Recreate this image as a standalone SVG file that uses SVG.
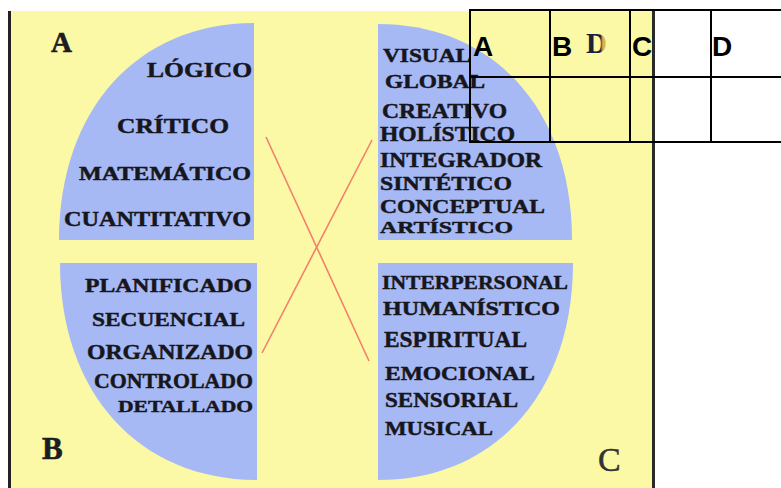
<svg xmlns="http://www.w3.org/2000/svg" width="781" height="488" viewBox="0 0 781 488">
  <style>
    .q { fill: #a7b9f4; }
    .t { font-family: "Liberation Serif", "Times New Roman", serif; font-weight: bold; fill: #16161c; stroke: #16161c; stroke-width: 0.45; }
    .corner { font-family: "Liberation Serif", "Times New Roman", serif; font-weight: bold; fill: #1c1c22; stroke: #1c1c22; stroke-width: 0.6; }
    .cross { stroke: #f2806c; stroke-width: 1.6; fill: none; }
    .grid { stroke: #000; stroke-width: 2; fill: none; }
    .th { font-family: "Liberation Sans", Arial, sans-serif; font-weight: bold; font-size: 28px; fill: #000; }
  </style>
  <defs>
    <linearGradient id="dgrad" gradientUnits="userSpaceOnUse" x1="586" y1="0" x2="612" y2="0">
      <stop offset="0" stop-color="#1a2038"/>
      <stop offset="0.55" stop-color="#1a2038"/>
      <stop offset="0.65" stop-color="#d9b84a"/>
      <stop offset="0.85" stop-color="#caa63a"/>
      <stop offset="1" stop-color="#1a2038"/>
    </linearGradient>
  </defs>
  <rect x="0" y="0" width="781" height="488" fill="#ffffff"/>
  <g id="background">
    <rect x="10" y="11" width="643" height="477" fill="#fcf9a6"/>
    <rect x="8" y="11" width="3" height="477" fill="#222"/>
    <rect x="652" y="11" width="3" height="477" fill="#2a2a2a"/>
  </g>

  <g id="quadrant-A">
    <path class="q" d="M254,23 C137,23 59,110 59,240 L254,240 Z"/>
    <text class="corner" x="51" y="52" font-size="29">A</text>
    <text class="t" x="147" y="77" font-size="21" textLength="105" lengthAdjust="spacingAndGlyphs">LÓGICO</text>
    <text class="t" x="117" y="133" font-size="21" textLength="112" lengthAdjust="spacingAndGlyphs">CRÍTICO</text>
    <text class="t" x="79" y="180" font-size="18" textLength="172" lengthAdjust="spacingAndGlyphs">MATEMÁTICO</text>
    <text class="t" x="64" y="226" font-size="20" textLength="187" lengthAdjust="spacingAndGlyphs">CUANTITATIVO</text>
  </g>

  <g id="quadrant-D">
    <path class="q" d="M378,24 C494,24 572,110 572,240 L378,240 Z"/>
    <text class="t" x="383" y="62" font-size="18" textLength="88" lengthAdjust="spacingAndGlyphs">VISUAL</text>
    <text class="t" x="385" y="88" font-size="18" textLength="100" lengthAdjust="spacingAndGlyphs">GLOBAL</text>
    <text class="t" x="382" y="118" font-size="20" textLength="125" lengthAdjust="spacingAndGlyphs">CREATIVO</text>
    <text class="t" x="380" y="141" font-size="20" textLength="135" lengthAdjust="spacingAndGlyphs">HOLÍSTICO</text>
    <text class="t" x="380" y="167" font-size="20" textLength="162" lengthAdjust="spacingAndGlyphs">INTEGRADOR</text>
    <text class="t" x="380" y="190" font-size="19" textLength="132" lengthAdjust="spacingAndGlyphs">SINTÉTICO</text>
    <text class="t" x="380" y="213" font-size="19" textLength="165" lengthAdjust="spacingAndGlyphs">CONCEPTUAL</text>
    <text class="t" x="380" y="233" font-size="17" textLength="133" lengthAdjust="spacingAndGlyphs">ARTÍSTICO</text>
  </g>

  <g id="quadrant-B">
    <path class="q" d="M60,263 C60,393 139,480 257,480 L257,263 Z"/>
    <text class="corner" x="42" y="459" font-size="31">B</text>
    <text class="t" x="85" y="292" font-size="19" textLength="167" lengthAdjust="spacingAndGlyphs">PLANIFICADO</text>
    <text class="t" x="92" y="326" font-size="19" textLength="153" lengthAdjust="spacingAndGlyphs">SECUENCIAL</text>
    <text class="t" x="87" y="359" font-size="20" textLength="166" lengthAdjust="spacingAndGlyphs">ORGANIZADO</text>
    <text class="t" x="94" y="388" font-size="21" textLength="159" lengthAdjust="spacingAndGlyphs">CONTROLADO</text>
    <text class="t" x="118" y="412" font-size="17" textLength="135" lengthAdjust="spacingAndGlyphs">DETALLADO</text>
  </g>

  <g id="quadrant-C">
    <path class="q" d="M573,263 C573,393 495,480 378,480 L378,263 Z"/>
    <text x="598" y="471" font-size="34" font-family="Liberation Serif, Times New Roman, serif" fill="#333" stroke="#333" stroke-width="0.5">C</text>
    <text class="t" x="382" y="289" font-size="19" textLength="186" lengthAdjust="spacingAndGlyphs">INTERPERSONAL</text>
    <text class="t" x="383" y="315" font-size="19" textLength="177" lengthAdjust="spacingAndGlyphs">HUMANÍSTICO</text>
    <text class="t" x="384" y="347" font-size="24" textLength="143" lengthAdjust="spacingAndGlyphs">ESPIRITUAL</text>
    <text class="t" x="385" y="380" font-size="18" textLength="150" lengthAdjust="spacingAndGlyphs">EMOCIONAL</text>
    <text class="t" x="385" y="407" font-size="20" textLength="133" lengthAdjust="spacingAndGlyphs">SENSORIAL</text>
    <text class="t" x="385" y="435" font-size="19" textLength="108" lengthAdjust="spacingAndGlyphs">MUSICAL</text>
  </g>

  <g id="connectors">
    <line class="cross" x1="266" y1="137" x2="369" y2="361"/>
    <line class="cross" x1="372" y1="140" x2="262" y2="353"/>
  </g>

  <g id="table">
    <text x="586" y="53" font-size="29" font-family="Liberation Serif, Times New Roman, serif" font-weight="bold" fill="url(#dgrad)">D</text>
    <line class="grid" x1="470" y1="10" x2="781" y2="10"/>
    <line class="grid" x1="470" y1="77" x2="781" y2="77"/>
    <line class="grid" x1="470" y1="142" x2="781" y2="142"/>
    <line class="grid" x1="470" y1="9" x2="470" y2="143"/>
    <line class="grid" x1="550" y1="9" x2="550" y2="143"/>
    <line class="grid" x1="630" y1="9" x2="630" y2="143"/>
    <line class="grid" x1="711" y1="9" x2="711" y2="143"/>
    <text class="th" x="473" y="56">A</text>
    <text class="th" x="552" y="56">B</text>
    <text class="th" x="632" y="56">C</text>
    <text class="th" x="712" y="56">D</text>
  </g>
</svg>
